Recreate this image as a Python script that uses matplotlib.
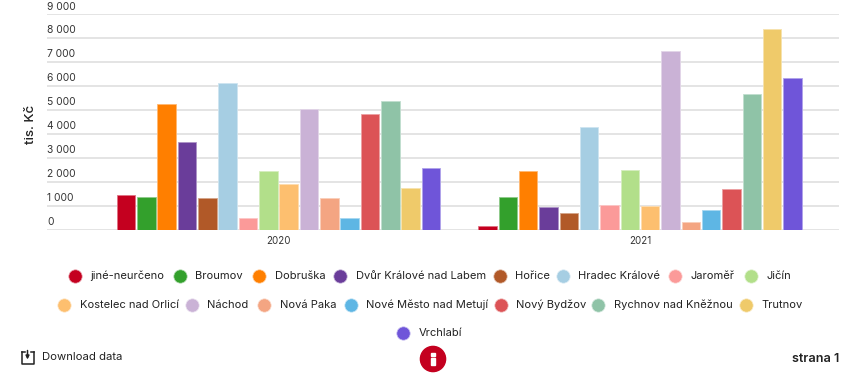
import matplotlib
matplotlib.use("Agg")
import matplotlib.pyplot as plt
from matplotlib.colors import to_rgb
from matplotlib.patches import Circle, Rectangle
import numpy as np

plt.rcParams['font.family'] = ['Inter', 'DejaVu Sans']

years = ['2020', '2021']
names = ['jiné-neurčeno', 'Broumov', 'Dobruška', 'Dvůr Králové nad Labem', 'Hořice',
         'Hradec Králové', 'Jaroměř', 'Jičín', 'Kostelec nad Orlicí', 'Náchod',
         'Nová Paka', 'Nové Město nad Metují', 'Nový Bydžov', 'Rychnov nad Kněžnou',
         'Trutnov', 'Vrchlabí']
values_2020 = [1418, 1335, 5240, 3655, 1305, 6090, 460, 2430, 1890, 5005, 1305, 460, 4825, 5350, 1735, 2570]
values_2021 = [150, 1335, 2430, 920, 680, 4280, 1030, 2500, 970, 7465, 320, 805, 1695, 5660, 8370, 6300]
colors = ['#c4001f', '#33a02c', '#ff7f00', '#6a3d9a', '#b15928', '#a6cee3', '#fb9a99', '#b2df8a',
          '#fdbf6f', '#cab2d6', '#f4a582', '#5eb6e4', '#dc5356', '#8fc3a7', '#efca6a', '#6f55d9']
yticks = [0, 1000, 2000, 3000, 4000, 5000, 6000, 7000, 8000, 9000]
ytick_labels = ['0', '1 000', '2 000', '3 000', '4 000', '5 000', '6 000', '7 000', '8 000', '9 000']

W, H = 846, 383
fig = plt.figure(figsize=(W / 100, H / 100), dpi=100)
L, R, T, B = 47, 839, 13.7, 229.5
ax = fig.add_axes([L / W, 1 - B / H, (R - L) / W, (B - T) / H])

# group centres at 278.5 and 640 px
span = 361.5
ax.set_xlim((L - 278.5) / span, (R - 278.5) / span)
ax.set_ylim(0, 9000)
pitch = 20.33 / span
n = len(names)


def lighten(c, f=0.45):
    r = np.array(to_rgb(c))
    return tuple(r + (1 - r) * f)


for i, (name, col) in enumerate(zip(names, colors)):
    off = (i - (n - 1) / 2) * pitch
    ax.bar([0 + off, 1 + off], [values_2020[i], values_2021[i]], width=18.6 / span,
           color=col, edgecolor=lighten(col), linewidth=0.6, zorder=3)

for s in ax.spines.values():
    s.set_visible(False)
ax.set_yticks(yticks)
ax.set_yticklabels([])
ax.set_xticks([0, 1])
ax.set_xticklabels([])
ax.tick_params(length=0)
ax.grid(axis='y', color='#e2e2e2', linewidth=1.3, zorder=0)
ax.grid(axis='x', visible=False)
ax.set_axisbelow(True)

# overlay in pixel coordinates for page furniture
ov = fig.add_axes([0, 0, 1, 1], facecolor='none')
ov.set_xlim(0, W)
ov.set_ylim(H, 0)
ov.axis('off')

txt = '#333333'
for v, lab in zip(yticks, ytick_labels):
    py = B - (B - T) * v / 9000
    ov.text(L, py - 7.2, lab, ha='left', va='center', fontsize=7.4, color=txt)
for x, lab in zip([278.5, 640], years):
    ov.text(x, 241.5, lab, ha='center', va='center', fontsize=7, color=txt)
ov.text(30.5, 124, 'tis. Kč', rotation=90, ha='center', va='center', fontsize=9.6,
        color='#222222', fontweight='medium')

legend_x = [75, 180, 259, 340, 500, 563, 675, 751,
            64, 192, 264, 351, 501, 598, 746,
            403]
legend_y = [276] * 8 + [304.5] * 7 + [332.5]
for name, col, x, y in zip(names, colors, legend_x, legend_y):
    ov.scatter([x], [y], s=92, color=col, edgecolor=lighten(col, 0.6), linewidth=0.5, zorder=3)
    ov.text(x + 15.5, y, name, ha='left', va='center', fontsize=8.0, color='#222222')

ov.text(42, 357, 'Download data', ha='left', va='center', fontsize=8.1, color='#222222')
ov.plot([21.5, 21.5, 33.5, 33.5], [352, 363.5, 363.5, 352], color='#222222', lw=1.1)
ov.plot([21.5, 24.5], [352, 352], color='#222222', lw=1.1)
ov.plot([30.5, 33.5], [352, 352], color='#222222', lw=1.1)
ov.annotate('', xy=(27.5, 359.5), xytext=(27.5, 350.5),
            arrowprops=dict(arrowstyle='-|>', color='#222222', lw=1.1, mutation_scale=5,
                            shrinkA=0, shrinkB=0))

ov.add_patch(Circle((433, 359), 12.6, color='#c4001f', zorder=3))
ov.add_patch(Rectangle((431.3, 358), 3.4, 7.2, color='white', zorder=4))
ov.add_patch(Rectangle((431.3, 353), 3.4, 3.2, color='white', zorder=4))

ov.text(839.5, 358.5, 'strana 1', ha='right', va='center', fontsize=9.1, fontweight='semibold', color='#222222')

fig.savefig('out.png', dpi=100)
